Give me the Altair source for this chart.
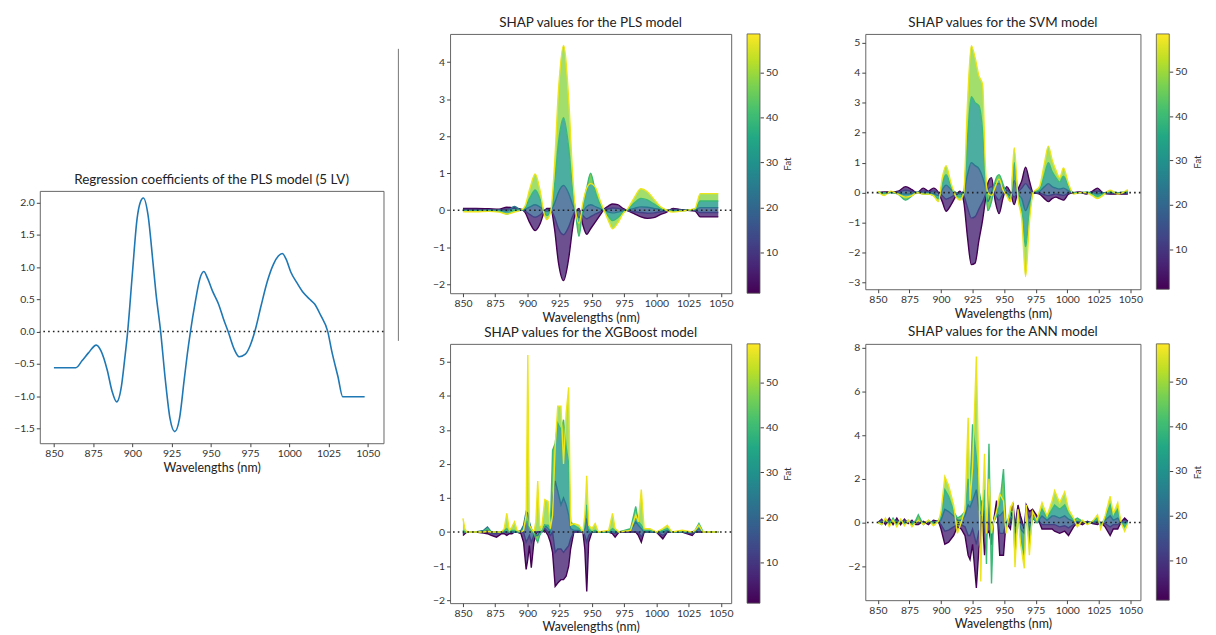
import altair as alt
import pandas as pd

FONT = "Lato"
FAT_LEVELS = [1, 12, 24, 40, 57]
FAT_DOMAIN = [1, 58.5]
COLORBAR_TICKS = [10, 20, 30, 40, 50]
X_TICKS = [850, 875, 900, 925, 950, 975, 1000, 1025, 1050]
VIRIDIS = ["#440154", "#482475", "#414487", "#355f8d", "#2a788e", "#21918c",
           "#22a884", "#44bf70", "#7ad151", "#bddf26", "#fde725"]

# ---- Regression coefficients of the PLS model (5 LV) ----
REG_WL = [850, 864, 868, 872, 877, 880, 884, 887, 890, 893, 895, 897, 900, 903, 905,
          907, 910, 913, 915, 918, 921, 924, 927, 930, 933, 935, 937, 940, 943, 945.5,
          948, 951, 955, 958, 961, 965, 968, 972, 975, 978, 982, 986, 990, 993, 995.5,
          998, 1001, 1005, 1009, 1013, 1016, 1020, 1024.5, 1027, 1031, 1034, 1040, 1048]
REG_COEF = [-0.56, -0.56, -0.45, -0.33, -0.21, -0.3, -0.6, -0.92, -1.09, -0.85, -0.45, 0.0, 0.9, 1.75, 2.0,
            2.07, 1.8, 1.1, 0.6, 0.0, -0.75, -1.35, -1.55, -1.35, -0.75, -0.35, 0.0, 0.45, 0.82, 0.93,
            0.82, 0.63, 0.42, 0.2, 0.0, -0.28, -0.39, -0.35, -0.22, 0.0, 0.4, 0.78, 1.05, 1.17, 1.21,
            1.12, 0.92, 0.75, 0.6, 0.5, 0.43, 0.25, 0.0, -0.3, -0.7, -1.01, -1.01, -1.01]

# ---- SHAP curves: (wavelength, fat=1, fat=12, fat=24, fat=40, fat=57) ----
PLS_ROWS = [
    (850, 0.05, 0.02, -0.01, -0.02, -0.04), (860, 0.05, 0.02, -0.01, -0.02, -0.04),
    (870, 0.04, 0.01, 0.0, -0.02, -0.03), (878, 0.03, 0.01, 0.0, -0.02, -0.05),
    (884, 0.08, 0.03, -0.02, -0.1, -0.1), (890, 0.06, 0.05, 0.1, 0.0, -0.05),
    (895, 0.03, 0.01, 0.0, 0.0, 0.0), (898, -0.05, -0.02, 0.02, 0.06, 0.1),
    (902, -0.35, -0.12, 0.09, 0.34, 0.6), (906, -0.55, -0.19, 0.15, 0.55, 0.98),
    (910, -0.35, -0.12, 0.08, 0.28, 0.5), (913, -0.05, -0.02, 0.0, -0.05, -0.1),
    (915, 0.05, 0.02, -0.03, -0.14, -0.25), (918, 0.05, 0.0, 0.0, -0.03, -0.05),
    (921, -0.5, -0.18, 0.18, 0.67, 1.2), (924, -1.4, -0.49, 0.48, 1.8, 3.2),
    (928, -1.9, -0.66, 0.67, 2.5, 4.45), (932, -1.3, -0.45, 0.45, 1.68, 3.0),
    (935, -0.5, -0.17, 0.15, 0.56, 1.0), (937, -0.1, -0.03, 0.0, 0.05, 0.1),
    (940, 0.05, 0.0, -0.2, -0.7, -0.35), (943, -0.4, -0.14, -0.05, 0.1, 0.2),
    (946, -0.65, -0.23, 0.1, 0.6, 0.6), (949, -0.5, -0.17, 0.15, 1.0, 0.72),
    (953, -0.3, -0.1, 0.09, 0.45, 0.6), (957, -0.1, -0.03, 0.03, 0.11, 0.2),
    (960, 0.05, 0.02, 0.0, -0.03, -0.05), (963, 0.12, 0.04, -0.05, -0.17, -0.3),
    (966, 0.17, 0.06, -0.07, -0.28, -0.5), (970, 0.15, 0.05, -0.05, -0.2, -0.35),
    (974, 0.05, 0.02, -0.02, -0.06, -0.1), (978, -0.02, -0.01, 0.01, 0.03, 0.05),
    (983, -0.1, -0.04, 0.05, 0.2, 0.35), (988, -0.18, -0.06, 0.09, 0.32, 0.58),
    (993, -0.22, -0.08, 0.08, 0.28, 0.5), (998, -0.2, -0.07, 0.05, 0.17, 0.3),
    (1003, -0.12, -0.04, 0.02, 0.06, 0.1), (1008, -0.05, -0.02, 0.0, 0.0, 0.0),
    (1013, 0.05, 0.02, -0.01, -0.03, -0.05), (1018, 0.02, 0.01, 0.0, -0.02, -0.03),
    (1024, 0.0, 0.0, 0.0, 0.0, 0.0), (1030, -0.02, -0.01, 0.01, 0.03, 0.05),
    (1034, -0.18, -0.06, 0.07, 0.25, 0.45), (1040, -0.18, -0.06, 0.07, 0.25, 0.45),
    (1048, -0.18, -0.06, 0.07, 0.25, 0.45),
]

SVM_ROWS = [
    (850, 0.0, 0.0, 0.0, 0.02, 0.05), (855, 0.02, 0.0, 0.0, -0.02, -0.1),
    (860, 0.02, 0.01, 0.0, 0.0, 0.05), (866, 0.05, 0.02, -0.02, -0.05, -0.05),
    (872, 0.2, 0.08, -0.05, -0.25, -0.15), (877, 0.1, 0.04, -0.03, -0.1, -0.1),
    (881, 0.0, 0.0, 0.0, 0.02, 0.0), (886, 0.15, 0.06, -0.02, -0.05, -0.05),
    (890, 0.05, 0.02, 0.0, -0.05, -0.05), (894, 0.15, 0.06, -0.03, -0.1, -0.1),
    (898, 0.0, 0.0, -0.1, -0.2, -0.3), (901, -0.3, -0.1, 0.1, 0.3, 0.5),
    (904, -0.62, -0.22, 0.25, 0.6, 0.9), (908, -0.4, -0.15, 0.1, 0.2, 0.3),
    (912, -0.1, -0.04, 0.0, -0.1, -0.15), (915, 0.05, 0.0, -0.05, -0.15, -0.25),
    (918, -0.3, -0.1, 0.05, 0.0, 0.0), (921, -1.5, -0.5, 0.6, 1.8, 3.0),
    (924, -2.4, -0.85, 1.0, 3.2, 4.9), (927, -2.35, -0.8, 0.9, 3.0, 4.5),
    (930, -1.6, -0.55, 0.8, 2.9, 3.9), (933, -0.9, -0.3, 0.5, 2.0, 3.6),
    (935, -0.3, -0.1, 0.2, 0.6, 1.0), (937, 0.3, 0.1, -0.3, -0.6, 0.0),
    (940, 0.5, 0.2, 0.0, -0.3, -0.1), (943, -0.3, -0.1, 0.3, 0.4, 0.2),
    (946, -0.7, -0.25, 0.3, 0.6, 0.45), (949, -0.2, -0.05, 0.2, 0.3, 0.1),
    (952, 0.2, 0.08, 0.0, -0.05, -0.1), (955, 0.0, 0.0, -0.1, -0.2, -0.3),
    (958, -0.4, -0.15, 0.4, 1.0, 1.5), (961, 0.1, 0.03, -0.05, -0.1, -0.2),
    (964, 0.4, 0.15, -0.2, -0.6, -0.9), (967, 0.85, 0.3, -0.6, -1.8, -2.8),
    (970, 0.4, 0.15, -0.3, -0.7, -1.0), (973, 0.0, 0.0, 0.0, 0.0, 0.0),
    (978, -0.05, -0.02, 0.05, 0.1, 0.2), (982, -0.2, -0.07, 0.2, 0.6, 1.0),
    (985, -0.3, -0.1, 0.3, 1.0, 1.55), (988, -0.2, -0.07, 0.2, 0.7, 1.1),
    (991, -0.15, -0.05, 0.15, 0.5, 0.75), (994, -0.2, -0.07, 0.12, 0.35, 0.5),
    (997, -0.25, -0.09, 0.15, 0.55, 0.82), (1001, -0.05, -0.02, 0.06, 0.2, 0.3),
    (1005, 0.0, 0.0, 0.0, 0.0, -0.05), (1010, 0.02, 0.0, 0.0, 0.0, 0.0),
    (1015, -0.05, -0.02, 0.0, 0.02, 0.0), (1020, 0.05, 0.02, 0.0, -0.05, -0.1),
    (1024, 0.15, 0.05, -0.05, -0.12, -0.2), (1028, 0.0, 0.0, 0.0, -0.05, -0.1),
    (1034, -0.05, -0.02, 0.0, 0.03, 0.08), (1040, -0.05, -0.02, 0.0, 0.0, -0.05),
    (1048, -0.05, -0.02, 0.0, 0.05, 0.1),
]

XGB_ROWS = [
    (850, -0.1, -0.05, 0.0, 0.05, 0.4), (851.5, -0.05, 0.0, 0.0, 0.0, 0.1),
    (853, 0.0, 0.0, 0.0, 0.0, 0.0), (860, 0.0, 0.0, 0.0, 0.0, 0.0),
    (866, -0.03, 0.0, 0.05, 0.02, 0.0), (869, -0.05, 0.05, 0.15, 0.1, 0.02),
    (872, -0.1, -0.05, 0.0, 0.0, 0.0), (876, -0.15, -0.05, 0.0, 0.0, 0.0),
    (880, -0.05, 0.0, 0.0, 0.0, 0.0), (882, -0.05, 0.0, 0.0, 0.05, 0.1),
    (884, -0.1, -0.03, 0.0, 0.1, 0.55), (886, -0.05, 0.0, 0.0, 0.0, 0.05),
    (888, -0.05, 0.0, 0.0, 0.05, 0.15), (890, 0.0, 0.0, 0.0, 0.05, 0.3),
    (892, 0.0, 0.0, 0.0, 0.0, 0.05), (895, -0.05, 0.0, 0.05, 0.0, 0.0),
    (897, -0.3, 0.0, 0.2, 0.1, 0.05), (899, -1.1, -0.3, 0.6, 0.3, 0.5),
    (900.3, -0.8, -0.2, 0.55, 0.3, 5.2), (901.5, -0.4, -0.1, 0.3, 0.1, 0.2),
    (903, -1.05, -0.3, 0.1, 0.0, 0.1), (905, -0.3, -0.1, 0.0, 0.0, 0.0),
    (906.5, -0.05, 0.0, -0.1, -0.2, 0.3), (908, 0.0, 0.0, -0.1, -0.3, 1.5),
    (909.5, 0.0, 0.0, 0.0, -0.1, 0.2), (911, 0.0, 0.0, 0.0, 0.0, 0.1),
    (913.5, 0.05, 0.1, 0.2, 0.2, 0.95), (916, -0.1, 0.0, 0.1, 0.2, 0.9),
    (917.8, -0.3, -0.1, 0.0, 0.1, 0.1), (919.5, -0.6, 0.0, 1.0, 2.4, 0.5),
    (921.5, -1.6, -0.6, 1.5, 2.6, 2.5), (923.5, -1.5, -0.5, 1.2, 3.2, 3.7),
    (926, -1.4, -0.5, 0.8, 3.0, 3.7), (928, -1.4, -0.6, 1.0, 3.3, 2.0),
    (930, -1.3, -0.5, 0.8, 2.5, 3.5), (932, -1.0, -0.4, 0.5, 2.0, 4.25),
    (933.5, -0.5, -0.2, 0.1, 0.3, 0.2), (936, 0.0, 0.0, 0.05, 0.2, 0.25),
    (940, 0.0, 0.0, 0.05, 0.1, 0.2), (943, 0.0, 0.0, 0.0, 0.0, 0.0),
    (944.5, -0.5, -0.1, 0.1, 0.2, 0.5), (946, -1.75, -0.3, 0.4, 0.8, 1.65),
    (947.5, -0.3, -0.1, 0.0, 0.1, 0.2), (950, 0.0, 0.0, 0.0, 0.0, 0.1),
    (952.5, 0.0, 0.0, 0.0, 0.05, 0.25), (955, 0.0, 0.0, 0.0, 0.0, 0.0),
    (963, 0.0, 0.0, 0.0, 0.0, 0.05), (966, -0.05, 0.0, 0.0, 0.1, 0.55),
    (968, -0.15, -0.05, 0.0, 0.05, 0.1), (971, 0.0, 0.0, 0.0, 0.0, 0.0),
    (980, 0.0, 0.0, 0.05, 0.1, 0.05), (984, 0.0, 0.0, 0.3, 0.75, 0.5),
    (986, -0.1, 0.0, 0.2, 0.3, 0.3), (988.3, -0.3, -0.15, 0.1, 0.2, 1.25),
    (990.5, 0.0, 0.0, 0.0, 0.05, 0.1), (995, 0.0, 0.0, 0.0, 0.05, 0.1),
    (1000, 0.0, 0.0, 0.0, 0.0, 0.0), (1005, -0.2, -0.1, 0.0, 0.05, 0.1),
    (1008.5, 0.0, 0.0, 0.05, 0.1, 0.2), (1012, 0.0, 0.0, 0.0, 0.0, 0.0),
    (1020, 0.0, 0.0, 0.0, 0.02, 0.05), (1027.8, -0.1, -0.05, 0.0, 0.0, 0.0),
    (1030, 0.0, 0.0, 0.0, 0.05, 0.05), (1033, 0.0, 0.0, 0.1, 0.25, 0.2),
    (1036, 0.0, 0.0, 0.0, 0.02, 0.0), (1048, 0.0, 0.0, 0.0, 0.0, 0.0),
]

ANN_ROWS = [
    (850, 0.0, 0.0, 0.0, 0.0, 0.0), (853, 0.15, 0.1, 0.0, -0.1, -0.1),
    (856, -0.1, 0.0, 0.1, 0.15, 0.2), (859, 0.2, 0.1, 0.0, -0.1, -0.2),
    (862, -0.1, 0.0, 0.1, 0.2, 0.1), (865, 0.2, 0.1, 0.0, -0.1, -0.2),
    (868, -0.1, 0.0, 0.05, 0.1, 0.15), (871, 0.15, 0.1, 0.0, -0.1, -0.15),
    (874, -0.05, 0.0, 0.05, 0.1, 0.1), (877, 0.1, 0.05, 0.0, -0.1, -0.2),
    (880, -0.1, 0.0, 0.05, 0.1, 0.0), (882, -0.1, 0.0, 0.1, 0.35, 0.1),
    (886, 0.05, 0.0, -0.05, -0.1, -0.1), (890, -0.1, 0.0, 0.05, 0.1, 0.1),
    (894, 0.1, 0.05, 0.0, -0.05, -0.15), (898, 0.05, 0.0, 0.05, 0.1, 0.05),
    (900, -0.3, -0.1, 0.1, 0.3, 0.5), (903, -1.0, -0.4, 0.6, 1.5, 2.1),
    (906, -0.9, -0.35, 0.5, 1.2, 1.7), (910, -0.6, -0.2, 0.3, 0.5, 0.8),
    (913, -0.2, -0.1, 0.1, 0.2, -0.5), (916, -0.3, -0.1, 0.1, 0.3, 0.0),
    (919, -0.6, -0.2, 0.3, 0.5, 0.6), (921.5, -1.5, -0.6, 0.8, 2.0, 4.8),
    (923, -1.7, -0.6, 0.7, 1.5, 1.0), (925, -1.0, -0.3, 1.0, 4.5, 2.5),
    (928, -3.0, -1.0, 1.5, 3.0, 7.6), (930, -1.2, -0.4, 0.6, 1.5, 2.0),
    (931.5, -0.8, -0.3, 0.4, 1.0, -2.7), (932.5, 0.5, 1.0, 0.4, 0.3, 0.0),
    (934.5, -1.5, -0.5, 0.5, 1.5, 3.15), (936, -0.5, -0.2, -0.5, -1.9, -0.5),
    (938, -0.4, 0.0, 1.0, 3.6, 2.0), (940, -1.0, -0.5, -1.0, -2.8, -0.5),
    (941.5, 0.0, 0.0, 0.0, 0.0, 0.0), (944, 1.0, 0.6, 0.4, 0.3, 0.5),
    (946.5, -1.5, -0.5, 0.3, 0.8, 1.3), (949.5, -1.5, -0.5, 0.5, 2.45, 1.0),
    (951.5, 0.0, 0.0, 0.0, -0.2, -0.5), (955, -0.3, -0.1, 0.2, 0.5, 0.7),
    (957, 0.9, 0.5, 0.3, 0.5, 0.9), (958.6, -0.2, -0.1, -0.5, -1.5, -2.05),
    (961, 0.8, 0.5, 0.3, 0.4, 0.6), (963, 0.3, 0.0, -0.3, -0.7, -1.0),
    (966, -0.3, -0.2, -0.5, -1.5, -2.1), (967.5, 0.8, 0.5, 0.3, 0.5, 0.8),
    (970, 0.5, 0.2, -0.3, -1.0, -1.5), (972.5, 0.6, 0.4, 0.2, 0.3, 0.5),
    (976, 0.3, 0.1, 0.0, 0.0, 0.1), (980, -0.3, -0.1, 0.3, 0.6, 0.9),
    (984, -0.3, -0.1, 0.1, 0.2, 0.3), (988, -0.3, -0.1, 0.3, 0.6, 1.0),
    (990, -0.4, -0.1, 0.3, 0.8, 1.45), (994, -0.5, -0.2, 0.2, 0.6, 0.9),
    (998, -0.4, -0.15, 0.3, 0.8, 1.4), (1001, -0.6, -0.25, 0.15, 0.4, 0.6),
    (1005, -0.2, -0.1, 0.05, 0.1, 0.2), (1008, 0.0, 0.0, 0.05, 0.2, -0.2),
    (1012, -0.1, 0.0, 0.05, 0.05, 0.1), (1016, 0.05, 0.0, 0.0, -0.05, -0.1),
    (1020, -0.05, 0.0, 0.0, 0.05, 0.05), (1024, -0.1, 0.0, 0.05, 0.2, 0.35),
    (1026.5, 0.0, 0.0, -0.05, -0.15, -0.3), (1030, -0.2, -0.05, 0.1, 0.2, 0.3),
    (1034, -0.6, -0.2, 0.3, 0.8, 1.2), (1036.5, -0.3, -0.1, 0.1, 0.3, 0.4),
    (1040, -0.3, -0.1, 0.2, 0.6, 0.9), (1042.5, 0.0, 0.0, 0.0, 0.0, 0.0),
    (1045.5, 0.2, 0.1, 0.0, -0.2, -0.4), (1048, 0.05, 0.0, 0.0, 0.0, -0.05),
]

assert len(REG_WL) == len(REG_COEF)
for rows in (PLS_ROWS, SVM_ROWS, XGB_ROWS, ANN_ROWS):
    assert all(len(r) == 1 + len(FAT_LEVELS) for r in rows)


def curve_frames(rows):
    lines, bands = [], []
    for r in rows:
        wl, vals = r[0], r[1:]
        for f, v in zip(FAT_LEVELS, vals):
            lines.append({"wl": wl, "fat": f, "v": v, "curve": f"c{f}"})
        for k in range(len(FAT_LEVELS) - 1):
            bands.append({"wl": wl, "fat": (FAT_LEVELS[k] + FAT_LEVELS[k + 1]) / 2,
                          "v": vals[k], "v2": vals[k + 1], "band": f"b{k}"})
    return pd.DataFrame(lines), pd.DataFrame(bands)


def zero_rule():
    return alt.Chart(pd.DataFrame({"v": [0.0]})).mark_rule(
        color="#222", strokeWidth=1.6, strokeDash=[1.6, 3.2]
    ).encode(y="v:Q")


def x_enc(domain):
    return alt.X("wl:Q", scale=alt.Scale(domain=domain, nice=False, zero=False),
                 axis=alt.Axis(values=X_TICKS, title="Wavelengths (nm)", labelFlush=False,
                               labelOverlap=False, tickCount=40, format="d"))


VIRIDIS_GRADIENT = alt.LinearGradient(
    gradient="linear",
    stops=[alt.GradientStop(color=c, offset=i / (len(VIRIDIS) - 1)) for i, c in enumerate(VIRIDIS)],
    x1=0, x2=0, y1=1, y2=0,
)


def colorbar(w, h):
    cb = pd.DataFrame({"lo": [FAT_DOMAIN[0]], "hi": [FAT_DOMAIN[1]]})
    return alt.Chart(cb).mark_rect(
        color=VIRIDIS_GRADIENT, stroke="#555", strokeWidth=0.8
    ).encode(
        x=alt.value(w + 16), x2=alt.value(w + 29),
        y=alt.Y("lo:Q", scale=alt.Scale(domain=FAT_DOMAIN, nice=False, zero=False),
                axis=alt.Axis(orient="right", offset=29, values=COLORBAR_TICKS, format="d",
                              tickCount=40, title="Fat", titleAngle=270, titleFontSize=10,
                              titleColor="#333", titleX=28, titleY=h / 2,
                              titleAlign="center", titleBaseline="middle",
                              labelFontSize=10.5, labelOverlap=False)),
        y2="hi:Q",
    )


def shap_panel(title, rows, ydom, yticks, w, h, interp):
    lines, bands = curve_frames(rows)
    xe = x_enc([840, 1058])
    ye = alt.Y("v:Q", scale=alt.Scale(domain=ydom, nice=False, zero=False),
               axis=alt.Axis(values=yticks, title=None, labelOverlap=False,
                             tickCount=40, format="d"))
    cscale = alt.Scale(scheme="viridis", domain=FAT_DOMAIN)
    band = alt.Chart(bands).mark_area(opacity=0.8, interpolate=interp, clip=True).encode(
        x=xe, y=ye, y2="v2:Q",
        color=alt.Color("fat:Q", scale=cscale, legend=None), detail="band:N")
    line = alt.Chart(lines).mark_line(strokeWidth=1.4, interpolate=interp, clip=True).encode(
        x=xe, y=ye, color=alt.Color("fat:Q", scale=cscale, legend=None), detail="curve:N")
    main = alt.layer(band, line, zero_rule())
    return alt.layer(main, colorbar(w, h)).resolve_scale(y="independent").properties(
        title=title, width=w, height=h)


reg = pd.DataFrame({"wl": REG_WL, "v": REG_COEF})
left = alt.layer(
    alt.Chart(reg).mark_line(color="#1f77b4", strokeWidth=1.6, interpolate="monotone").encode(
        x=x_enc([841, 1060]),
        y=alt.Y("v:Q", scale=alt.Scale(domain=[-1.73, 2.18], nice=False, zero=False),
                axis=alt.Axis(values=[-1.5, -1.0, -0.5, 0.0, 0.5, 1.0, 1.5, 2.0],
                              format=".1f", title=None, labelOverlap=False, tickCount=40))),
    zero_rule(),
).properties(title="Regression coefficients of the PLS model (5 LV)", width=346, height=254)

blank = pd.DataFrame({"v": [0]})
spacer = alt.Chart(blank).mark_point(opacity=0).encode(
    x=alt.value(0), y=alt.value(0)
).properties(width=346, height=140, view=alt.ViewBackground(strokeWidth=0))

sep = alt.Chart(blank).mark_rule(color="#777", strokeWidth=1).encode(
    x=alt.value(0), y=alt.value(15), y2=alt.value(309)
).properties(width=21, height=309, view=alt.ViewBackground(strokeWidth=0))

pls = shap_panel("SHAP values for the PLS model", PLS_ROWS, [-2.24, 4.76], [-2, -1, 0, 1, 2, 3, 4], 283, 261, "monotone")
svm = shap_panel("SHAP values for the SVM model", SVM_ROWS, [-3.22, 5.29], [-3, -2, -1, 0, 1, 2, 3, 4, 5], 277, 257, "monotone")
xgb = shap_panel("SHAP values for the XGBoost model", XGB_ROWS, [-2.09, 5.53], [-2, -1, 0, 1, 2, 3, 4, 5], 283, 261, "linear")
ann = shap_panel("SHAP values for the ANN model", ANN_ROWS, [-3.56, 8.18], [-2, 0, 2, 4, 6, 8], 277, 258, "linear")

row1 = alt.hconcat(pls, svm, spacing=53)
row2 = alt.hconcat(xgb, ann, spacing=53)
grid = alt.vconcat(row1, row2, spacing=0)
leftcol = alt.vconcat(spacer, left, spacing=0)

chart = alt.hconcat(leftcol, sep, grid, spacing=12)

chart = chart.configure(font=FONT, background="white").configure_view(
    stroke="#666", strokeWidth=1
).configure_axis(
    domain=False, grid=False, labelFont=FONT, labelFontSize=10.5, labelColor="#333",
    tickColor="#444", tickSize=3.5, titleFont=FONT, titleFontSize=12.5,
    titleFontWeight="normal", titleColor="#222", titlePadding=2, labelPadding=2
).configure_title(
    font=FONT, fontSize=13.5, fontWeight="normal", color="#222", offset=4
)

chart.save("out.html", embed_options={"renderer": "svg", "actions": False})
